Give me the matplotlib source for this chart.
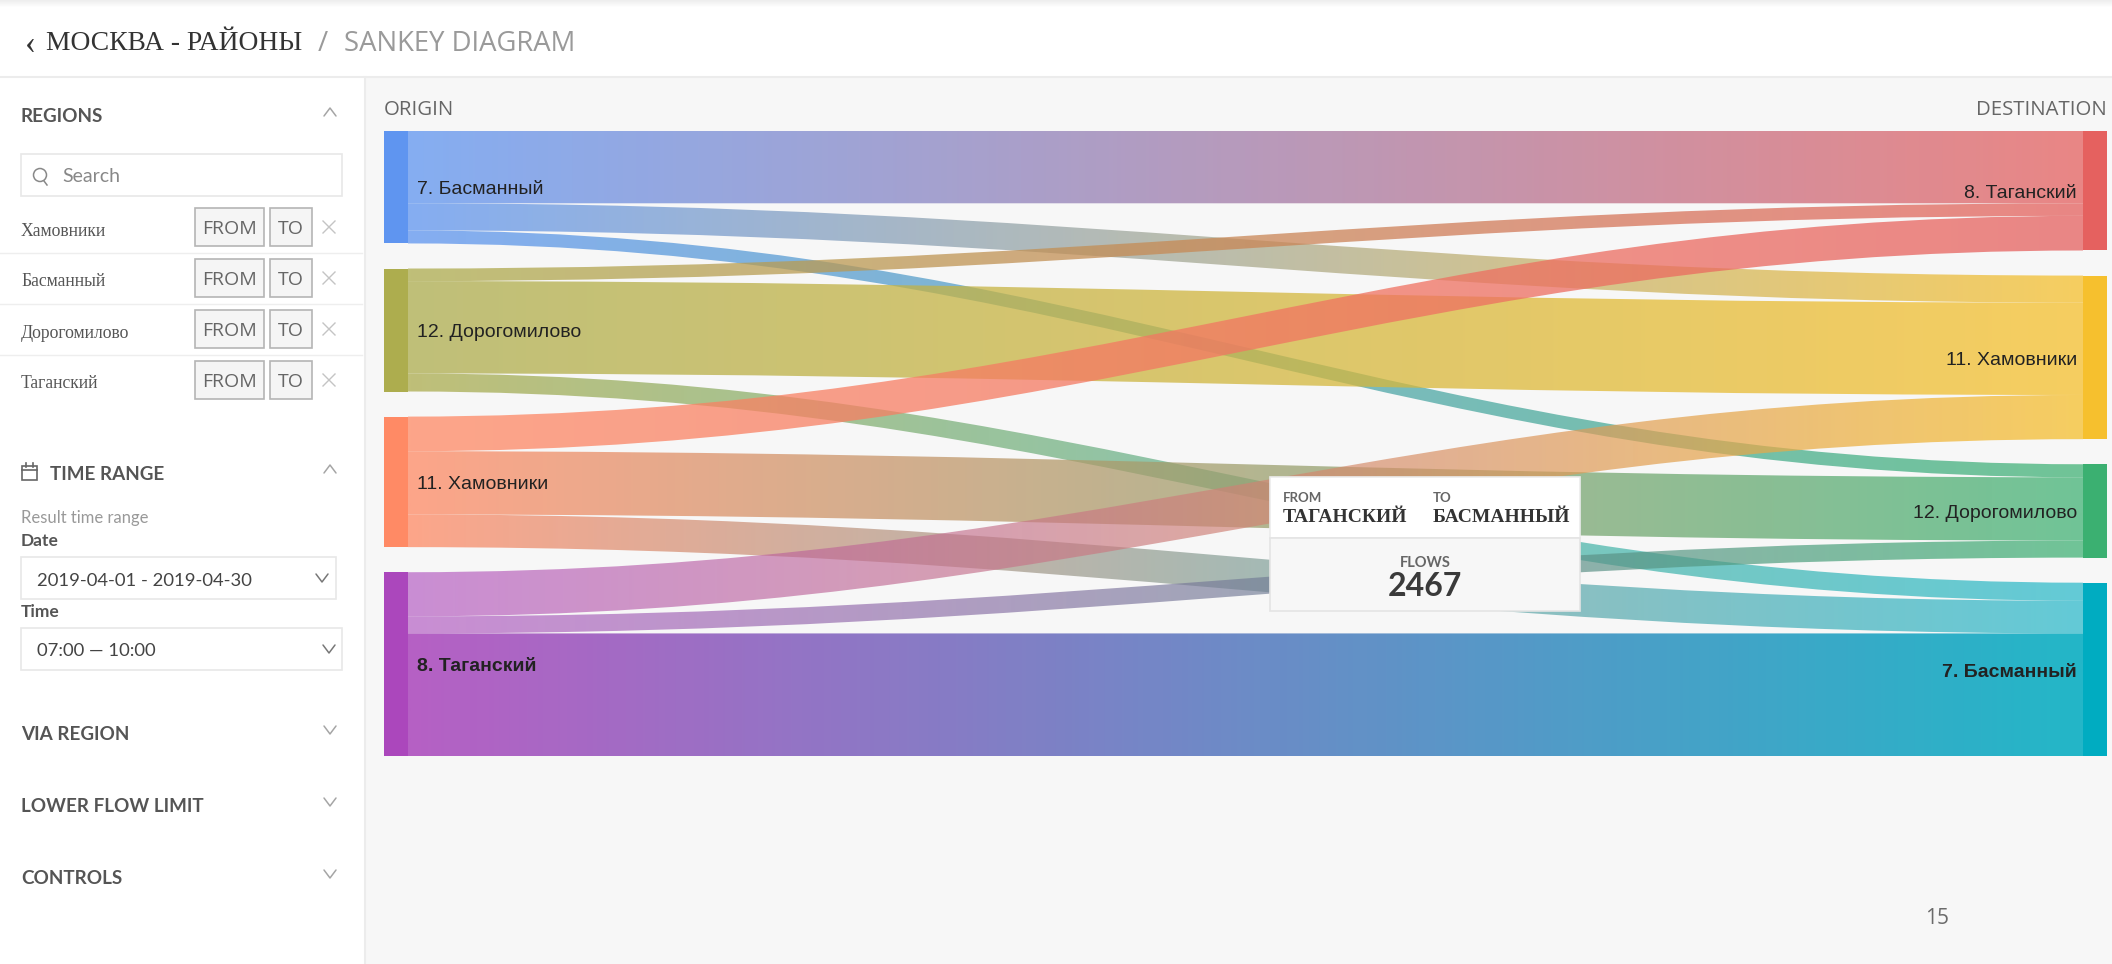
import numpy as np
import matplotlib
matplotlib.use("Agg")
import matplotlib.pyplot as plt
from matplotlib.colors import to_rgb
from matplotlib.patches import PathPatch, Rectangle, Circle
from matplotlib.path import Path

# ------------------------------------------
# data
# ------------------------------------------
origins = ["7. Басманный", "12. Дорогомилово", "11. Хамовники", "8. Таганский"]
destinations = ["8. Таганский", "11. Хамовники", "12. Дорогомилово", "7. Басманный"]

# flows[origin][destination], order as in the lists above
flows_basmanny = [1455, 545, 263, 0]
flows_dorogomilovo = [253, 1858, 0, 364]
flows_khamovniki = [697, 0, 1273, 657]
flows_tagansky = [0, 889, 343, 2467]
flows = [flows_basmanny, flows_dorogomilovo, flows_khamovniki, flows_tagansky]

origin_colors = ["#5f95f0", "#adad4e", "#ff8a65", "#ab47bc"]
destination_colors = ["#e5615f", "#f6c02e", "#3bb071", "#00acc1"]
origin_alpha = [0.75, 0.75, 0.75, 0.6]
destination_alpha = [0.75, 0.75, 0.72, 0.6]

region_names = ["Хамовники", "Басманный", "Дорогомилово", "Таганский"]
collapsed_sections = ["VIA REGION", "LOWER FLOW LIMIT", "CONTROLS"]

NODE_GAP = 505     # same units as the flows
LABEL_SHIFT = 55   # node labels sit a little under the node centre
CURVE = 0.4        # control point position along the ribbon
W, H = 2112, 964
BG = "#f7f7f7"
UI_FONT = ["Lato", "DejaVu Sans"]
LABEL_FONT = ["Liberation Sans"]
SERIF_FONT = ["Liberation Serif"]

fig = plt.figure(figsize=(W / 100, H / 100), dpi=100, facecolor="white")


def px_axes(zorder):
    ax = fig.add_axes([0, 0, 1, 1], zorder=zorder)
    ax.set_xlim(0, W)
    ax.set_ylim(H, 0)
    ax.axis("off")
    ax.patch.set_alpha(0)
    return ax


# ------------------------------------------
# page background
# ------------------------------------------
bg = px_axes(0)
bg.add_patch(Rectangle((365, 77), W - 365, H - 77, fc=BG, ec="none"))
bg.plot([365, 365], [77, H], color="#ececec", lw=1.5)
bg.plot([0, W], [77, 77], color="#ececec", lw=1.5)
bg.imshow(np.linspace(0.93, 1, 8).reshape(-1, 1), cmap="gray", vmin=0, vmax=1,
          extent=(0, W, 8, 0), aspect="auto")
bg.set_xlim(0, W)
bg.set_ylim(H, 0)

# ------------------------------------------
# sankey, y axis in flow units
# ------------------------------------------
ax = fig.add_axes([384 / W, 1 - 756 / H, (2107 - 384) / W, (756 - 131) / H], zorder=1)
ax.axis("off")
ax.patch.set_alpha(0)

flows_arr = np.array(flows, dtype=float)
y_total = flows_arr.sum() + NODE_GAP * (len(origins) - 1)
ax.set_xlim(0, 1)
ax.set_ylim(y_total, 0)

NODE_W = 24 / (2107 - 384)
LEFT_X = NODE_W
RIGHT_X = 1 - NODE_W

# node stacks
left_tops = np.concatenate([[0], np.cumsum(flows_arr.sum(axis=1) + NODE_GAP)[:-1]])
right_tops = np.concatenate([[0], np.cumsum(flows_arr.sum(axis=0) + NODE_GAP)[:-1]])


def ribbon_path(y0, y1, v):
    # cubic edge along the top, straight down, cubic back along the bottom
    span = RIGHT_X - LEFT_X
    xa = LEFT_X + CURVE * span
    xb = RIGHT_X - CURVE * span
    verts = [(LEFT_X, y0), (xa, y0), (xb, y1), (RIGHT_X, y1),
             (RIGHT_X, y1 + v), (xb, y1 + v), (xa, y0 + v), (LEFT_X, y0 + v),
             (LEFT_X, y0)]
    codes = [Path.MOVETO, Path.CURVE4, Path.CURVE4, Path.CURVE4,
             Path.LINETO, Path.CURVE4, Path.CURVE4, Path.CURVE4,
             Path.CLOSEPOLY]
    return Path(verts, codes)


left_cursor = left_tops.copy()
right_cursor = right_tops.copy()
for i in range(len(origins)):
    for j in range(len(destinations)):
        v = flows_arr[i, j]
        if v == 0:
            continue
        y0, y1 = left_cursor[i], right_cursor[j]
        left_cursor[i] += v
        right_cursor[j] += v

        # gradient from the origin colour to the destination colour
        t = np.linspace(0, 1, 256)[None, :, None]
        rgb = (1 - t) * np.array(to_rgb(origin_colors[i])) + t * np.array(to_rgb(destination_colors[j]))
        if v == flows_arr.max():
            alpha = np.full(t.shape, 0.86)  # the selected link
        else:
            alpha = (1 - t) * origin_alpha[i] + t * destination_alpha[j]
        rgba = np.dstack([rgb, alpha])
        im = ax.imshow(rgba, extent=(LEFT_X, RIGHT_X, y_total, 0), aspect="auto",
                       interpolation="bilinear", zorder=2)
        patch = PathPatch(ribbon_path(y0, y1, v), transform=ax.transData, fc="none", ec="none")
        ax.add_patch(patch)
        im.set_clip_path(patch)

ax.set_xlim(0, 1)
ax.set_ylim(y_total, 0)

# node bars and their labels
for i, name in enumerate(origins):
    h = flows_arr[i].sum()
    ax.add_patch(Rectangle((0, left_tops[i]), NODE_W, h, fc=origin_colors[i], ec="none", zorder=3))
    ax.text(LEFT_X + 0.005, left_tops[i] + h / 2 + LABEL_SHIFT, name, ha="left", va="center",
            family=LABEL_FONT, fontsize=14, color="#222222", zorder=4,
            fontweight="bold" if name == "8. Таганский" else "normal")
for j, name in enumerate(destinations):
    h = flows_arr[:, j].sum()
    ax.add_patch(Rectangle((RIGHT_X, right_tops[j]), NODE_W, h, fc=destination_colors[j], ec="none", zorder=3))
    ax.text(RIGHT_X - 0.0035, right_tops[j] + h / 2 + LABEL_SHIFT, name, ha="right", va="center",
            family=LABEL_FONT, fontsize=14, color="#222222", zorder=4,
            fontweight="bold" if name == "7. Басманный" else "normal")

# ------------------------------------------
# everything around the chart, in pixels
# ------------------------------------------
ui = px_axes(2)


def label(x, y, s, size, color="#555555", family=UI_FONT, weight="normal", ha="left"):
    ui.text(x, y + 2, s, fontsize=size, color=color, family=family, fontweight=weight, ha=ha, va="center")


def caret(x, y, up=True, color="#a5a5a5"):
    d = -4 if up else 4
    ui.plot([x - 6, x, x + 6], [y - d, y + d, y - d], color=color, lw=1.1, solid_capstyle="round")


def box(x0, y0, x1, y1, fc="white", ec="#e8e8e8", lw=1.2):
    ui.add_patch(Rectangle((x0, y0), x1 - x0, y1 - y0, fc=fc, ec=ec, lw=lw))


# header
label(25, 43, "‹", 24, color="#333333", family=SERIF_FONT)
label(46, 42, "МОСКВА - РАЙОНЫ", 19.8, color="#333333", family=SERIF_FONT)
label(318, 42, "/", 20, color="#9a9a9a", family=["Open Sans"])
label(344, 42, "SANKEY DIAGRAM", 19.8, color="#9a9a9a", family=["Open Sans"])

label(384, 108, "ORIGIN", 14.7, color="#666666", family=["Open Sans"])
label(2107, 108, "DESTINATION", 14.7, color="#666666", family=["Open Sans"], ha="right")

# regions block
label(21, 115, "REGIONS", 13.6, weight="bold")
caret(330, 112)
box(21, 154, 342, 196)
ui.add_patch(Circle((40, 175), 6.5, fc="none", ec="#888888", lw=1.1))
ui.plot([44, 47], [181, 185], color="#888888", lw=1.1)
label(62, 175, "Search", 14, color="#888888")

row_tops = np.linspace(208, 361, len(region_names))
for name, top in zip(region_names, row_tops):
    label(21, top + 21, name, 12.7, color="#555555", family=SERIF_FONT)
    box(195, top, 264, top + 38, fc="#f5f5f5", ec="#b5b5b5")
    box(270, top, 312, top + 38, fc="#f5f5f5", ec="#b5b5b5")
    label(229.5, top + 19, "FROM", 14, color="#666666", family=["Open Sans"], ha="center")
    label(291, top + 19, "TO", 14, color="#666666", family=["Open Sans"], ha="center")
    ui.plot([323, 335], [top + 13, top + 25], color="#c4c4c4", lw=1)
    ui.plot([323, 335], [top + 25, top + 13], color="#c4c4c4", lw=1)
for top in row_tops[1:]:
    ui.plot([0, 362], [top - 6, top - 6], color="#eeeeee", lw=1)

# time range block
ui.add_patch(Rectangle((22, 466), 15, 14, fc="none", ec="#666666", lw=1.2))
ui.plot([22, 37], [470, 470], color="#666666", lw=1.2)
ui.plot([26, 26], [463, 467], color="#666666", lw=1.2)
ui.plot([33, 33], [463, 467], color="#666666", lw=1.2)
label(50, 473, "TIME RANGE", 13.6, weight="bold")
caret(330, 469)
label(21, 516, "Result time range", 12, color="#999999")
label(21, 539, "Date", 12.5, color="#555555", weight="bold")
box(21, 557, 336, 599)
label(37, 579, "2019-04-01 - 2019-04-30", 13.3, color="#444444")
caret(322, 578, up=False, color="#777777")
label(21, 610, "Time", 12.5, color="#555555", weight="bold")
box(21, 628, 342, 670)
label(37, 649, "07:00 — 10:00", 13.3, color="#444444")
caret(329, 649, up=False, color="#777777")

# collapsed sections
for name, y in zip(collapsed_sections, np.linspace(733, 877, len(collapsed_sections))):
    label(21, y, name, 13.6, weight="bold")
    caret(330, y - 3, up=False)

# tooltip
box(1270, 477, 1580, 538, fc="white", ec="#ececec")
box(1270, 538, 1580, 611, fc=BG, ec="#e4e4e4")
label(1283, 496, "FROM", 9.5, color="#666666", weight="bold")
label(1433, 496, "TO", 9.5, color="#666666", weight="bold")
label(1283, 516, "ТАГАНСКИЙ", 14, color="#333333", family=SERIF_FONT, weight="bold")
label(1433, 516, "БАСМАННЫЙ", 14, color="#333333", family=SERIF_FONT, weight="bold")
label(1425, 561, "FLOWS", 10.5, color="#666666", weight="bold", ha="center")
label(1425, 584, "2467", 23, color="#3a3a3a", weight="bold", ha="center")

label(1937, 917, "15", 15, color="#6b6b6b", family=["Open Sans"], ha="center")

fig.savefig("out.png", dpi=100, facecolor="white")
